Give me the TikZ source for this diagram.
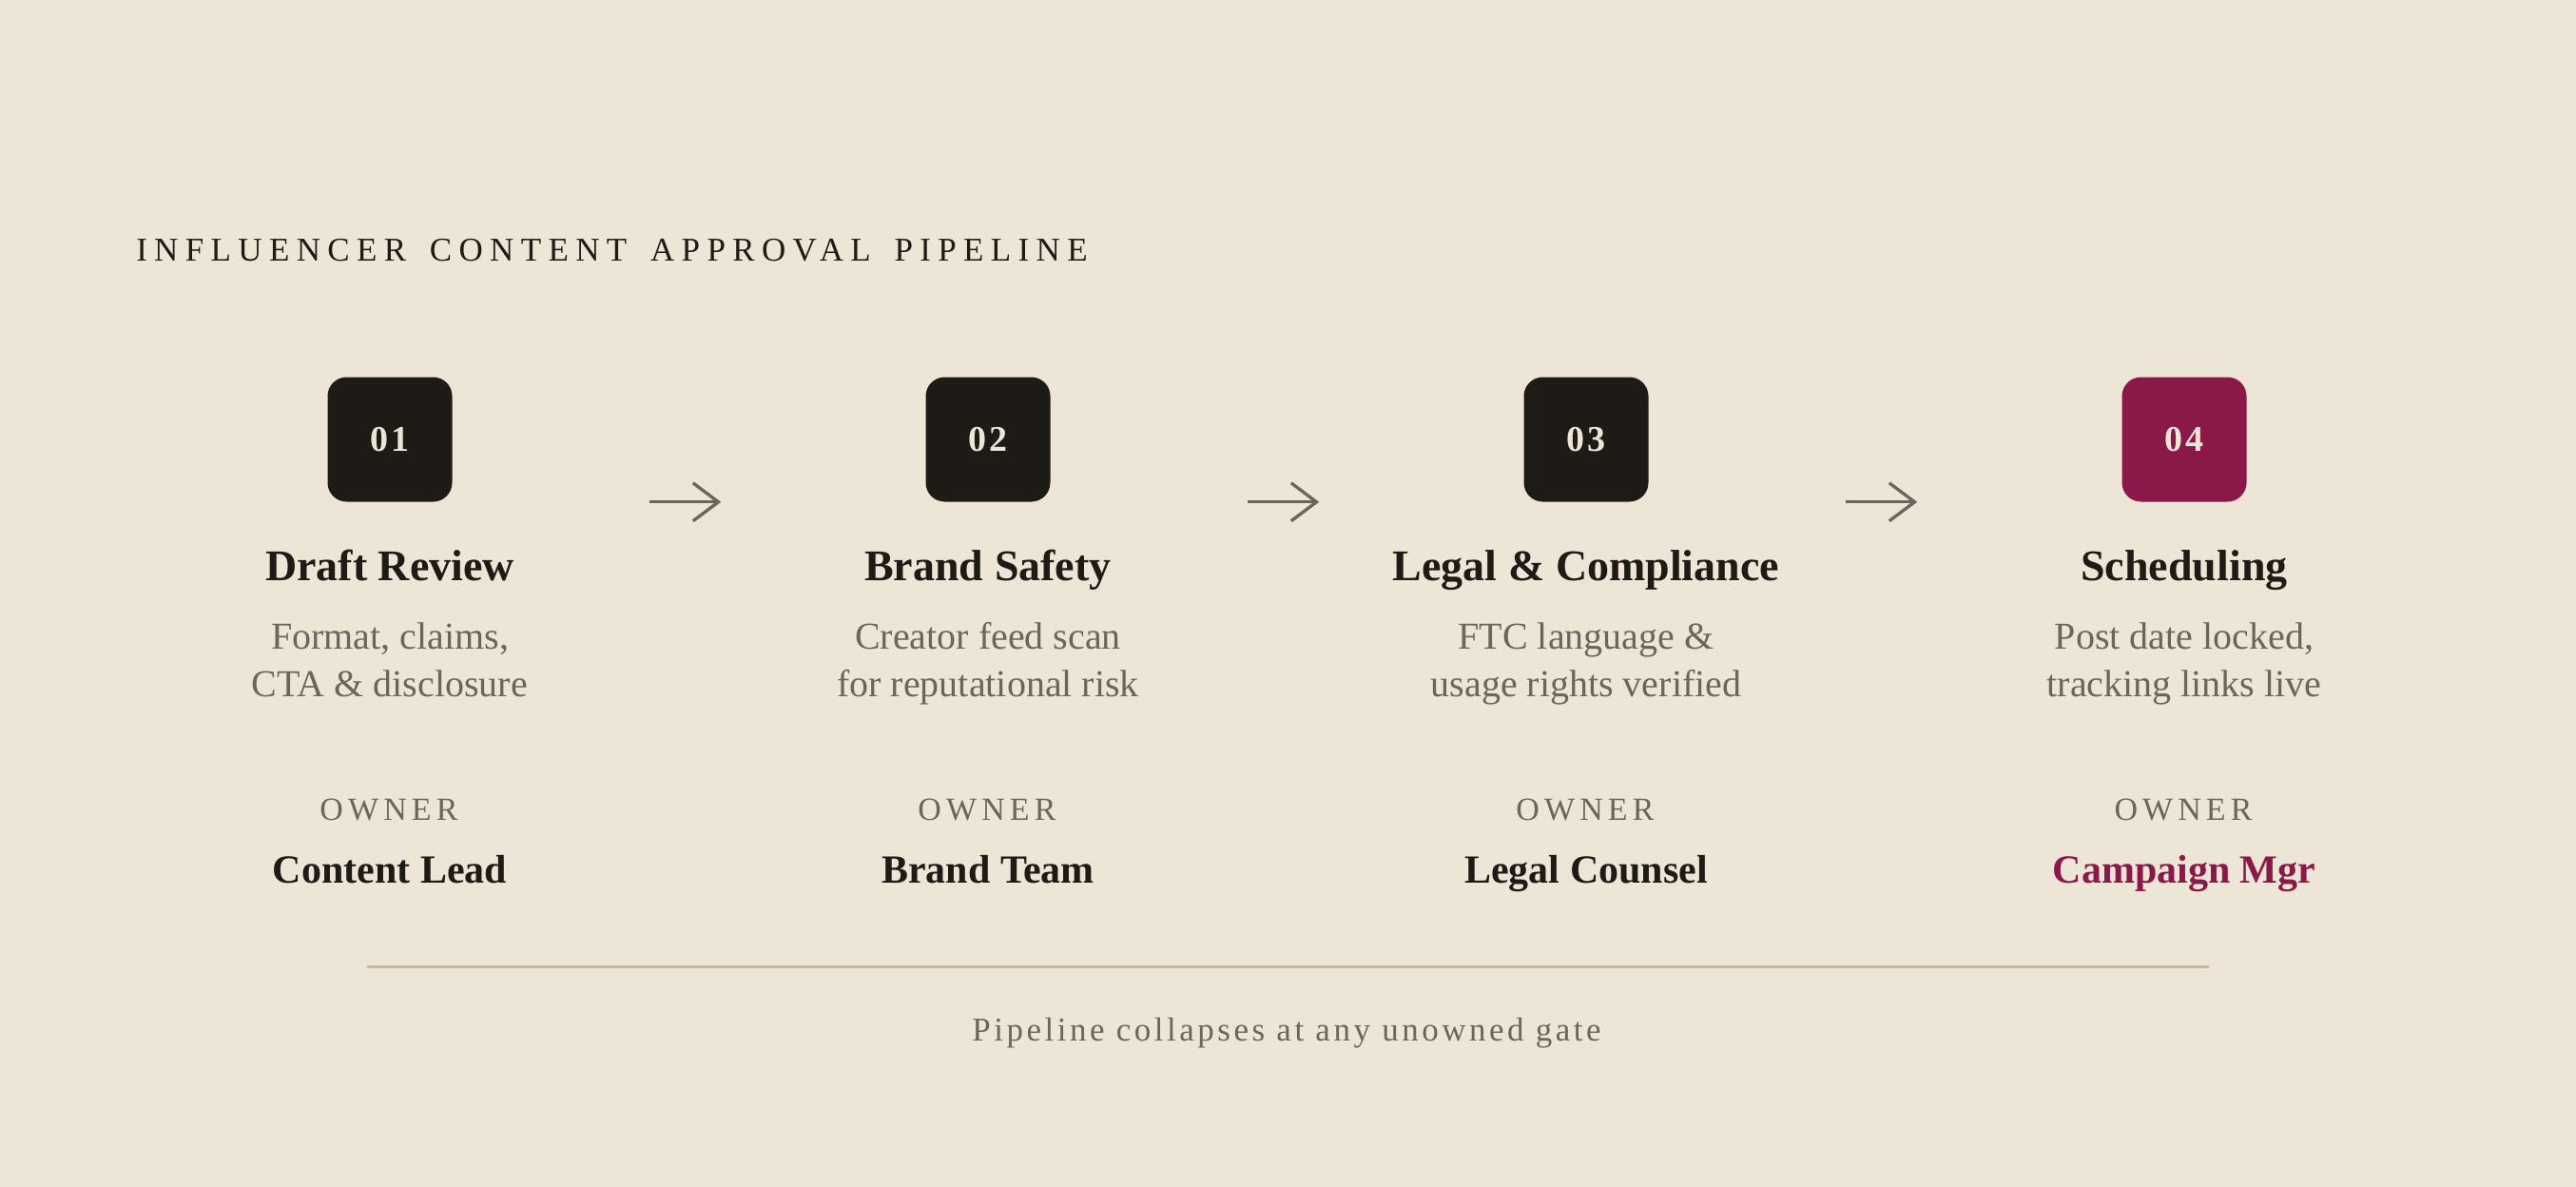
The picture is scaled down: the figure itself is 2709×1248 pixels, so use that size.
\documentclass[tikz,border=0pt]{standalone}
\usepackage{fontspec}
\setmainfont{Liberation Serif}
\usetikzlibrary{arrows.meta,calc}
\definecolor{bg}{HTML}{EDE6D7}
\definecolor{ink}{HTML}{1E1A16}
\definecolor{muted}{HTML}{6B655C}
\definecolor{accent}{HTML}{8A1848}
\definecolor{rulec}{HTML}{C6BAA1}
\newcommand{\wsp}{\hspace{6.5pt} }
\begin{document}
\begin{tikzpicture}[x=0.75pt,y=-0.75pt,
  txt/.style={inner sep=0pt, anchor=base},
  headtxt/.style={txt, anchor=base west, text=ink, font=\fontsize{26.25pt}{30pt}\selectfont\addfontfeature{LetterSpace=21}},
  stepbox/.style={rounded corners=15pt, minimum width=98.25pt, minimum height=98.25pt, inner sep=0pt, fill=ink, text=bg, font=\fontsize{28.5pt}{30pt}\selectfont\bfseries\addfontfeature{LetterSpace=8}},
  lastbox/.style={stepbox, fill=accent},
  titletxt/.style={txt, text=ink, font=\fontsize{34.5pt}{40pt}\selectfont\bfseries},
  desctxt/.style={txt, text=muted, font=\fontsize{30pt}{37.5pt}\selectfont},
  ownlabel/.style={txt, text=muted, font=\fontsize{25.5pt}{30pt}\selectfont\addfontfeature{LetterSpace=15}},
  ownname/.style={txt, text=ink, font=\fontsize{31.5pt}{36pt}\selectfont\bfseries},
  foottxt/.style={txt, text=muted, font=\fontsize{26.25pt}{30pt}\selectfont\addfontfeature{LetterSpace=10}},
  arr/.style={draw=muted, line width=2.5pt, -{Straight Barb[length=20pt, width=30pt, line width=2.5pt]}},
  rulestyle/.style={draw=rulec, line width=2.25pt}
]
\fill[bg] (0,0) rectangle (2709,1248);
\useasboundingbox (0,0) rectangle (2709,1248);

\node[headtxt] (head) at (143,275) {INFLUENCER\wsp CONTENT\wsp APPROVAL\wsp PIPELINE};

% boxes
\node[stepbox] (b1) at (410,462) {01};
\node[stepbox] (b2) at (1039,462) {02};
\node[stepbox] (b3) at (1668,462) {03};
\node[lastbox] (b4) at (2297,462) {04};

% arrows
\draw[arr] ($(b1.south east)+(207,0)$) -- ($(b2.south west)+(-215,0)$);
\draw[arr] ($(b2.south east)+(207,0)$) -- ($(b3.south west)+(-215,0)$);
\draw[arr] ($(b3.south east)+(207,0)$) -- ($(b4.south west)+(-215,0)$);

% titles
\node[titletxt] (t1) at (410,610) {Draft Review};
\node[titletxt] (t2) at (1039,610) {Brand Safety};
\node[titletxt] (t3) at (1668,610) {Legal \& Compliance};
\node[titletxt] (t4) at (2297,610) {Scheduling};

% descriptions
\node[desctxt] (d1a) at (410,682) {Format, claims,};
\node[desctxt] (d1b) at (410,732) {CTA \& disclosure};
\node[desctxt] (d2a) at (1039,682) {Creator feed scan};
\node[desctxt] (d2b) at (1039,732) {for reputational risk};
\node[desctxt] (d3a) at (1668,682) {FTC language \&};
\node[desctxt] (d3b) at (1668,732) {usage rights verified};
\node[desctxt] (d4a) at (2297,682) {Post date locked,};
\node[desctxt] (d4b) at (2297,732) {tracking links live};

% owners
\node[ownlabel] (o1) at (409,862) {OWNER};
\node[ownlabel] (o2) at (1038,862) {OWNER};
\node[ownlabel] (o3) at (1667,862) {OWNER};
\node[ownlabel] (o4) at (2296,862) {OWNER};
\node[ownname] (n1) at (410,928) {Content Lead};
\node[ownname] (n2) at (1039,928) {Brand Team};
\node[ownname] (n3) at (1668,928) {Legal Counsel};
\node[ownname, text=accent] (n4) at (2297,928) {Campaign Mgr};

% rule and footer
\coordinate (rl) at (386,1016.5);
\coordinate (rr) at (2323,1016.5);
\draw[rulestyle] (rl) -- (rr);
\node[foottxt] (foot) at (1353,1094) {Pipeline collapses at any unowned gate};
\end{tikzpicture}
\end{document}
